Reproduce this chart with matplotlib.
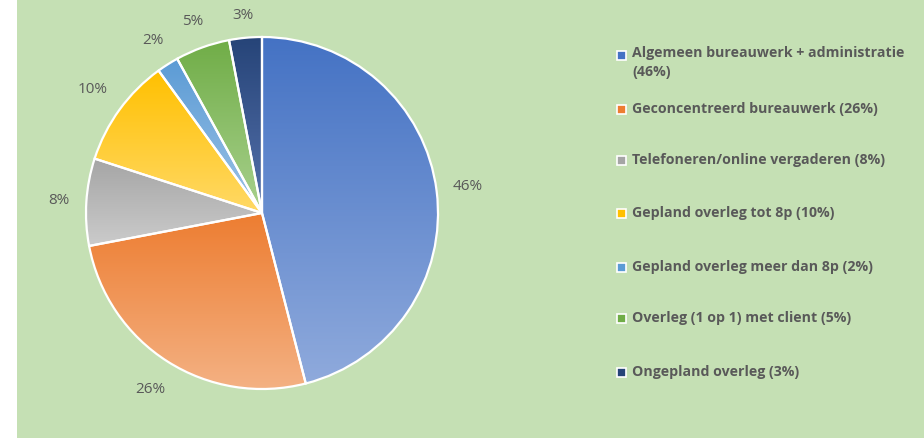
import matplotlib.pyplot as plt
import numpy as np
from matplotlib.colors import LinearSegmentedColormap
from matplotlib.patches import Rectangle

# =========================
# DATA
# =========================
categories = [
    "Algemeen bureauwerk + administratie",
    "Geconcentreerd bureauwerk",
    "Telefoneren/online vergaderen",
    "Gepland overleg tot 8p",
    "Gepland overleg meer dan 8p",
    "Overleg (1 op 1) met client",
    "Ongepland overleg",
]
shares = [46, 26, 8, 10, 2, 5, 3]

# gradient colours per slice: (top, bottom)
top_colors = ["#4472C4", "#ED7D31", "#A5A5A5", "#FFC000", "#5B9BD5", "#70AD47", "#264478"]
bottom_colors = ["#8FAADC", "#F4B183", "#CBCBCB", "#FFD966", "#9DC3E6", "#A9D18E", "#5672AC"]

# distance of each percentage label from the centre (pie radius = 1)
label_radius = [1.18, 1.185, 1.155, 1.19, 1.16, 1.155, 1.125]

# =========================
# FIGURE
# =========================
W, H = 924, 438
fig = plt.figure(figsize=(W / 100, H / 100), dpi=100, facecolor="white")
fig.patches.append(Rectangle((17 / W, 0), 1, 1, transform=fig.transFigure,
                             facecolor="#C5E0B4", edgecolor="none", zorder=-10))

cx, cy, R = 262, 213, 176
ax = fig.add_axes([(cx - R) / W, (H - cy - R) / H, 2 * R / W, 2 * R / H])
ax.set_axis_off()

wedges, _, autotexts = ax.pie(
    shares, startangle=90, counterclock=False, radius=1,
    autopct="%1.0f%%", pctdistance=1.19,
    wedgeprops=dict(edgecolor="white", linewidth=1.6, facecolor="none"),
    textprops=dict(color="#595959", fontsize=11, family="Open Sans"),
)

# vertical gradient fill per slice
for w, ctop, cbot in zip(wedges, top_colors, bottom_colors):
    w.set_zorder(3)
    ext = w.get_path().get_extents()
    cmap = LinearSegmentedColormap.from_list("g", [cbot, ctop])
    im = ax.imshow(np.linspace(0, 1, 256).reshape(-1, 1), cmap=cmap, origin="lower",
                   extent=[ext.x0, ext.x1, ext.y0, ext.y1], aspect="auto", zorder=2)
    im.set_clip_path(w)

# place percentage labels like Excel's best fit
for t, w, r in zip(autotexts, wedges, label_radius):
    ang = np.deg2rad((w.theta1 + w.theta2) / 2)
    t.set_position((r * np.cos(ang), r * np.sin(ang)))

ax.set_xlim(-1, 1)
ax.set_ylim(-1, 1)
ax.set_aspect("equal")

# =========================
# LEGEND
# =========================
legend_y = [55, 109, 160, 213, 267, 318, 372]
for i, (cat, val, col) in enumerate(zip(categories, shares, top_colors)):
    y = legend_y[i]
    fig.patches.append(Rectangle((617 / W, 1 - (y + 4.5) / H), 9 / W, 9 / H,
                                 transform=fig.transFigure, facecolor=col,
                                 edgecolor="white", linewidth=1.2))
    if i == 0:
        label = f"{cat}\n({val}%)"
        fig.text(632 / W, 1 - (y - 8.5) / H, label, ha="left", va="top",
                 fontsize=10.2, fontweight="bold", color="#595959",
                 family="Open Sans", linespacing=1.45)
    else:
        fig.text(632 / W, 1 - y / H, f"{cat} ({val}%)", ha="left", va="center",
                 fontsize=10.2, fontweight="bold", color="#595959",
                 family="Open Sans")

fig.savefig("out.png", dpi=100)
